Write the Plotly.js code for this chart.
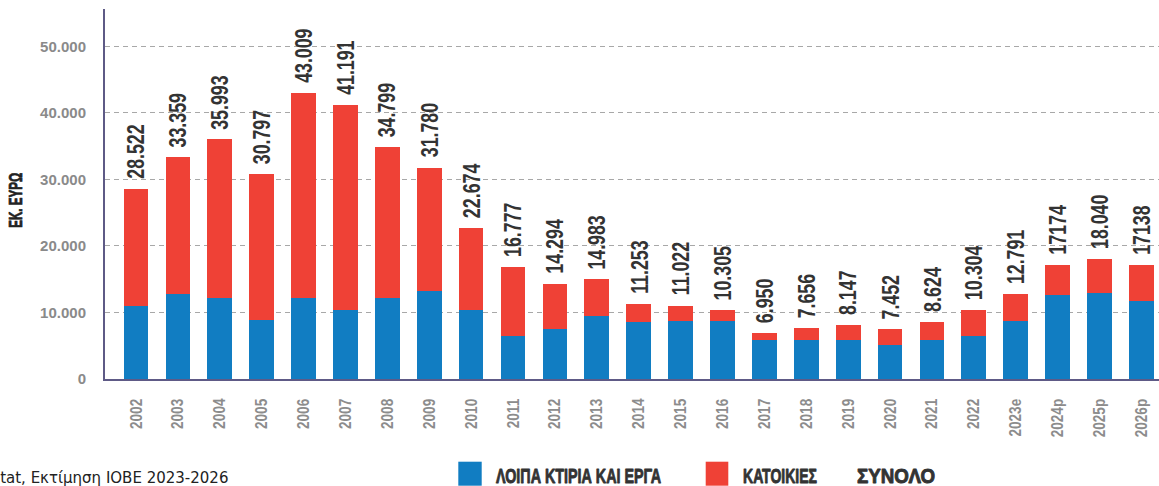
<!DOCTYPE html>
<html>
<head>
<meta charset="utf-8">
<script src="https://cdn.plot.ly/plotly-3.0.1.min.js"></script>
<style>html,body{margin:0;padding:0;background:#fff;}#chart{width:1159px;height:486px;}</style>
</head>
<body>
<div id="chart"></div>
<script>
// ---- data ----
const years = ["2002","2003","2004","2005","2006","2007","2008","2009","2010","2011","2012","2013","2014","2015","2016","2017","2018","2019","2020","2021","2022","2023e","2024p","2025p","2026p"];
const otherBuildings = [11000,12800,12200,8800,12200,10300,12200,13200,10300,6500,7500,9500,8600,8700,8700,5900,5800,5800,5100,5800,6500,8700,12600,12900,11700];
const housing = [17522,20559,23793,21997,30809,30891,22599,18580,12374,10277,6794,5483,2653,2322,1605,1050,1856,2347,2352,2824,3804,4091,4574,5140,5438];
const totals = [28522,33359,35993,30797,43009,41191,34799,31780,22674,16777,14294,14983,11253,11022,10305,6950,7656,8147,7452,8624,10304,12791,17174,18040,17138];
const totalLabels = ["28.522","33.359","35.993","30.797","43.009","41.191","34.799","31.780","22.674","16.777","14.294","14.983","11.253","11.022","10.305","6.950","7.656","8.147","7.452","8.624","10.304","12.791","17174","18.040","17138"];
const seriesNames = ["ΛΟΙΠΑ ΚΤΙΡΙΑ ΚΑΙ ΕΡΓΑ","ΚΑΤΟΙΚΙΕΣ","ΣΥΝΟΛΟ"];
const yTitle = "ΕΚ. ΕΥΡΩ";
const sourceText = "Πηγή: ΕΛΣΤΑΤ, Eurostat, Εκτίμηση ΙΟΒΕ 2023-2026";

// ---- styling ----
const BLUE = "#117DC2", RED = "#EF4136";
const SANS = "'Liberation Sans', Arial, sans-serif";
const M = {l:105, r:0, t:9, b:107};
const W = 1159, H = 486;
const PW = W - M.l - M.r, PH = H - M.t - M.b;
const px = x => (x - M.l) / PW;
const py = y => (H - M.b - y) / PH;

const traces = [
  {type:"bar", name:seriesNames[0], x:years, y:otherBuildings, marker:{color:BLUE}, showlegend:false, hoverinfo:"skip"},
  {type:"bar", name:seriesNames[1], x:years, y:housing, marker:{color:RED}, showlegend:false, hoverinfo:"skip"},
  {type:"scatter", mode:"lines", name:seriesNames[2], x:years, y:totals, line:{color:"rgba(0,0,0,0)"}, showlegend:false, hoverinfo:"skip"}
];

// condense specs, keyed by annotation index
const condenseSpec = {};
const annotations = years.map((yr,i)=>{
  condenseSpec[i] = {factor:0.74, keep:"start"};
  return {
    x: i, y: totals[i], xref:"x", yref:"y", text: totalLabels[i],
    showarrow:false, textangle:-90, xanchor:"center", yanchor:"bottom", yshift:8,
    font:{family:SANS, size:24, color:"#333333", weight:"bold"}
  };
});

condenseSpec[annotations.length] = {target:55, keep:"middle", stroke:0.7};
annotations.push({
  xref:"paper", yref:"paper", x:px(16.5), y:py(200.5), text:yTitle, showarrow:false,
  textangle:-90, xanchor:"center", yanchor:"middle",
  font:{family:SANS, size:18, color:"#222222", weight:"bold"}
});
annotations.push({
  xref:"paper", yref:"paper", x:px(230), y:py(477.5), text:sourceText, showarrow:false,
  xanchor:"right", yanchor:"middle",
  font:{family:"'DejaVu Sans', sans-serif", size:15, color:"#222222"}
});
// legend
const legItems = [
  {sq:[458.3,481.7], color:BLUE, tx:496, w:165, name:seriesNames[0]},
  {sq:[705.7,728.3], color:RED, tx:742.7, w:74, name:seriesNames[1]},
  {sq:null, color:null, tx:856.7, w:78, name:seriesNames[2]}
];
const shapes = [];
legItems.forEach(it=>{
  if (it.sq) shapes.push({type:"rect", xref:"paper", yref:"paper", x0:px(it.sq[0]), x1:px(it.sq[1]), y0:py(485.7), y1:py(461.7), fillcolor:it.color, line:{width:0}});
  condenseSpec[annotations.length] = {target:it.w, keep:"start", stroke:0.9};
  annotations.push({xref:"paper", yref:"paper", x:px(it.tx), y:py(475), text:it.name, showarrow:false,
    xanchor:"left", yanchor:"middle", xshift:-2,
    font:{family:SANS, size:21, color:"#333333", weight:"bold"}});
});

const layout = {
  width:W, height:H, margin:M, paper_bgcolor:"#fff", plot_bgcolor:"#fff",
  barmode:"stack", bargap:0.41, separators:",.", showlegend:false,
  xaxis:{type:"category", categoryorder:"array", categoryarray:years, range:[-0.74,24.42],
    showgrid:false, zeroline:false, showline:true, linecolor:"#5E5A86", linewidth:2,
    ticks:"outside", ticklen:11, tickcolor:"rgba(0,0,0,0)", tickangle:-90,
    tickfont:{family:SANS, size:17, color:"#8C8C8C", weight:"bold"}},
  yaxis:{range:[0,55600], tickvals:[0,10000,20000,30000,40000,50000], tickformat:",d",
    showgrid:true, gridcolor:"#A8A8A8", gridwidth:1, griddash:"5px,4px",
    zeroline:false, showline:true, linecolor:"#5E5A86", linewidth:2,
    ticks:"outside", ticklen:14, tickcolor:"rgba(0,0,0,0)",
    tickfont:{family:SANS, size:15, color:"#8A8A8A", weight:"bold"}},
  annotations:annotations, shapes:shapes, hovermode:false
};

// horizontally condense an svg text element (mimics the condensed typeface of the original)
function condense(el, opts){
  if (!el) return;
  const bb = el.getBBox();
  const L = bb.width;
  if (!L) return;
  const T = Math.min(L, opts.target || L * opts.factor);
  let sx;
  if (opts.keep === "start") sx = bb.x;
  else if (opts.keep === "end") sx = bb.x + L - T;
  else sx = bb.x + (L - T) / 2;
  el.querySelectorAll("tspan").forEach(t=>{ t.removeAttribute("x"); });
  el.setAttribute("x", sx);
  el.setAttribute("text-anchor", "start");
  el.style.textAnchor = "start";
  el.setAttribute("textLength", T);
  el.setAttribute("lengthAdjust", "spacingAndGlyphs");
  if (opts.stroke) {
    el.style.stroke = el.style.fill || "#333";
    el.style.strokeWidth = opts.stroke + "px";
    el.style.strokeLinejoin = "round";
  }
}

Plotly.newPlot("chart", traces, layout, {staticPlot:true, displayModeBar:false}).then(gd=>{
  gd.querySelectorAll("g.annotation").forEach(g=>{
    const idx = +g.getAttribute("data-index");
    const spec = condenseSpec[idx];
    if (spec) condense(g.querySelector("text.annotation-text"), spec);
  });
  gd.querySelectorAll("g.xtick text").forEach(t=>condense(t, {factor:0.8, keep:"end"}));
});
</script>
</body>
</html>
